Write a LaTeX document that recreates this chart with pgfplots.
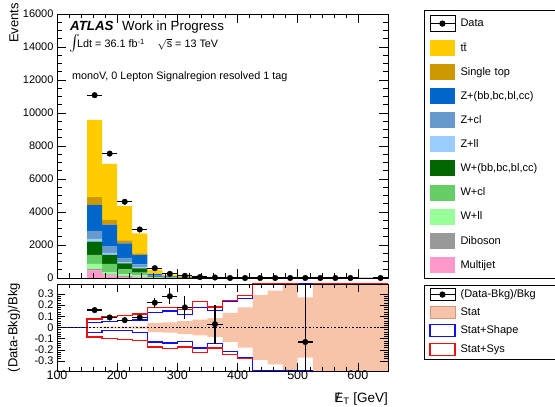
\documentclass[border=0pt]{standalone}
\usepackage{pgfplots}
\pgfplotsset{compat=1.18}
\usepackage{pgfplotstable}
\usepackage{fontspec}
\setmainfont{Liberation Sans}

\definecolor{cTT}{HTML}{FFCC00}
\definecolor{cST}{HTML}{CC9900}
\definecolor{cZhf}{HTML}{0066CC}
\definecolor{cZcl}{HTML}{6699CC}
\definecolor{cZll}{HTML}{99CCFF}
\definecolor{cWhf}{HTML}{006600}
\definecolor{cWcl}{HTML}{66CC66}
\definecolor{cWll}{HTML}{99FF99}
\definecolor{cVV}{HTML}{999999}
\definecolor{cMJ}{HTML}{FF99CC}
\definecolor{cStat}{HTML}{F7C4AA}
\definecolor{cStatLine}{HTML}{D9957A}
\definecolor{cShape}{HTML}{1010F0}
\definecolor{cSys}{HTML}{F01010}

% background yields per 25 GeV bin (bin centres)
\pgfplotstableread{
x     mj   vv    wll   wcl   whf   zll   zcl   zhf   st    tt
162.5 460  100   300   545   806   160   485   1576  465   4685
187.5 160  60    140   500   545   120   400   1315  285   3393
212.5 60   60    100   300   365   80    260   870   180   2080
237.5 40   40    80    160   260   100   140   565   100   1212
262.5 5    8     10    25    45    15    30    100   30    220
287.5 1    2     4     10    18    5     12    40    15    90
312.5 1    1     2     5     11    3     7     23    8     50
337.5 0    0.5   0.5   2     4     1     3     9     3     15
362.5 0    0.5   0.5   1.5   3.5   1     2     7     2     11
387.5 0    0.3   0.3   0.8   1.5   0.5   1     3     1     4
412.5 0    0.2   0.2   0.5   1     0.3   0.6   2     0.6   2
437.5 0    0.1   0.1   0.3   0.6   0.2   0.4   1.2   0.3   1
462.5 0    0.1   0.1   0.2   0.4   0.1   0.2   0.7   0.2   0.6
487.5 0    0.05  0.05  0.1   0.2   0.1   0.1   0.5   0.1   0.4
512.5 0    0.05  0.05  0.1   0.2   0.05  0.1   0.3   0.1   0.3
537.5 0    0     0     0.05  0.1   0.05  0.05  0.2   0.05  0.2
562.5 0    0     0     0.05  0.1   0     0.05  0.15  0.05  0.15
587.5 0    0     0     0     0.05  0     0.05  0.1   0.05  0.1
612.5 0    0     0     0     0.05  0     0     0.1   0     0.1
637.5 0    0     0     0     0.05  0     0     0.1   0     0.1
}\bkg

% observed events
\pgfplotstableread{
x     y      ex    ey
162.5 11080  12.5  105
187.5 7540   12.5  87
212.5 4620   12.5  68
237.5 2940   12.5  54
262.5 596    12.5  24
287.5 252    12.5  16
312.5 131    12.5  11
337.5 55     12.5  7
362.5 30     12.5  5
387.5 0      12.5  0
412.5 0      12.5  0
437.5 0      12.5  0
462.5 0      12.5  0
487.5 0      12.5  0
512.5 1      12.5  1
537.5 0      12.5  0
562.5 0      12.5  0
587.5 0      12.5  0
637.5 0      12.5  0
}\data

% (Data-Bkg)/Bkg
\pgfplotstableread{
x     r      ex    er
162.5 0.156  12.5  0.012
187.5 0.090  12.5  0.014
212.5 0.066  12.5  0.016
237.5 0.090  12.5  0.020
262.5 0.222  12.5  0.045
287.5 0.280  12.5  0.070
312.5 0.180  12.5  0.100
362.5 0.030  12.5  0.175
512.5 -0.130 12.5  1.000
}\ratio

\pgfplotsset{
  hepaxis/.style={
    scale only axis, width=331bp, anchor=south west,
    xmin=100, xmax=650,
    tick align=inside, xtick pos=both, ytick pos=both,
    xtick={100,200,...,600}, minor x tick num=4,
    major tick length=9bp, minor tick length=4.5bp,
    every tick/.style={black, line width=0.5pt},
    axis line style={black, line width=0.6pt},
    /pgf/number format/assume math mode=true,
    /pgf/number format/1000 sep={},
    scaled y ticks=false,
  },
  swatch/.style={legend image code/.code={\fill[##1] (0bp,-8bp) rectangle (25bp,8bp);}},
  smallswatch/.style={legend image code/.code={\draw[##1] (0bp,-6bp) rectangle (25bp,6bp);}},
}

\begin{document}
\begin{tikzpicture}
\useasboundingbox (0bp,0bp) rectangle (555bp,407bp);

% stacked backgrounds
\begin{axis}[hepaxis, at={(57bp,129bp)}, height=264bp,
  ymin=0, ymax=16000, ytick={0,2000,...,16000}, minor y tick num=3,
  xticklabels={},
  yticklabel style={font=\fontsize{11bp}{13bp}\selectfont},
  ybar stacked, bar width=25, axis on top]
\addplot[fill=cMJ,  draw=none] table[x=x,y=mj]{\bkg};
\addplot[fill=cVV,  draw=none] table[x=x,y=vv]{\bkg};
\addplot[fill=cWll, draw=none] table[x=x,y=wll]{\bkg};
\addplot[fill=cWcl, draw=none] table[x=x,y=wcl]{\bkg};
\addplot[fill=cWhf, draw=none] table[x=x,y=whf]{\bkg};
\addplot[fill=cZll, draw=none] table[x=x,y=zll]{\bkg};
\addplot[fill=cZcl, draw=none] table[x=x,y=zcl]{\bkg};
\addplot[fill=cZhf, draw=none] table[x=x,y=zhf]{\bkg};
\addplot[fill=cST,  draw=none] table[x=x,y=st]{\bkg};
\addplot[fill=cTT,  draw=none] table[x=x,y=tt]{\bkg};
\end{axis}

% data and legend
\begin{axis}[hepaxis, at={(57bp,129bp)}, height=264bp,
  ymin=0, ymax=16000, hide axis, clip=false,
  legend cell align=left,
  legend style={at={(1.1088,1.0152)}, anchor=north west,
    draw=black, line width=0.6pt, fill=white,
    inner xsep=5bp, inner ysep=5bp, row sep=8.1bp, column sep=5bp,
    font=\fontsize{11bp}{13bp}\selectfont,
    nodes={inner sep=0pt, text width=100bp, align=left}}]
\addplot[black, only marks, mark=*, mark size=2.8bp,
  legend image code/.code={\draw[black, line width=1.2bp] (0bp,0bp) -- (25bp,0bp);
    \fill[black] (12.5bp,0bp) circle (2.8bp); \path (0bp,-8bp) rectangle (25bp,8bp);},
  error bars/.cd, x dir=both, x explicit, y dir=both, y explicit,
  error bar style={line width=1.2bp, black}, error mark=none]
  table[x=x, y=y, x error=ex, y error=ey]{\data};
\addlegendentry{Data}
\addlegendimage{swatch, fill=cTT, draw=none}\addlegendentry{t\={t}}
\addlegendimage{swatch, fill=cST, draw=none}\addlegendentry{Single top}
\addlegendimage{swatch, fill=cZhf, draw=none}\addlegendentry{Z+(bb,bc,bl,cc)}
\addlegendimage{swatch, fill=cZcl, draw=none}\addlegendentry{Z+cl}
\addlegendimage{swatch, fill=cZll, draw=none}\addlegendentry{Z+ll}
\addlegendimage{swatch, fill=cWhf, draw=none}\addlegendentry{W+(bb,bc,bl,cc)}
\addlegendimage{swatch, fill=cWcl, draw=none}\addlegendentry{W+cl}
\addlegendimage{swatch, fill=cWll, draw=none}\addlegendentry{W+ll}
\addlegendimage{swatch, fill=cVV, draw=none}\addlegendentry{Diboson}
\addlegendimage{swatch, fill=cMJ, draw=none}\addlegendentry{Multijet}
\end{axis}

% ratio panel
\begin{axis}[hepaxis, at={(57bp,36bp)}, height=87bp,
  ymin=-0.39, ymax=0.39, ytick={-0.3,-0.2,-0.1,0,0.1,0.2,0.3}, minor y tick num=4,
  major tick length=8bp, minor tick length=4bp,
  yticklabel style={font=\fontsize{11bp}{13bp}\selectfont},
  xticklabel style={font=\fontsize{12.5bp}{14bp}\selectfont, yshift=4bp},
  axis on top,
  legend cell align=left,
  legend style={at={(1.1088,0.9885)}, anchor=north west,
    draw=black, line width=0.6pt, fill=white,
    inner xsep=5bp, inner ysep=3bp, row sep=5.3bp, column sep=5bp,
    font=\fontsize{11bp}{13bp}\selectfont,
    nodes={inner sep=0pt, text width=100bp, align=left}}]
\addlegendimage{legend image code/.code={\draw[black, line width=1.2bp] (0bp,0bp) -- (25bp,0bp);
    \fill[black] (12.5bp,0bp) circle (2.8bp); \path (0bp,-6bp) rectangle (25bp,6bp);}}
\addlegendentry{(Data-Bkg)/Bkg}
\addlegendimage{smallswatch, fill=cStat, draw=cStatLine, line width=0.6bp}\addlegendentry{Stat}
\addlegendimage{smallswatch, fill=white, draw=cShape, line width=1.3bp}\addlegendentry{Stat+Shape}
\addlegendimage{smallswatch, fill=white, draw=cSys, line width=1.3bp}\addlegendentry{Stat+Sys}

% statistical band
\addplot[forget plot, const plot mark left, fill=cStat, draw=none] coordinates {
  (150,0.006) (175,0.007) (200,0.008) (225,0.01) (250,0.042) (275,0.045)
  (300,0.058) (325,0.07) (350,0.085) (375,0.13) (400,0.18) (425,0.29)
  (450,0.33) (475,0.6) (500,0.27) (525,0.6) (650,0.6)} \closedcycle;
\addplot[forget plot, const plot mark left, fill=cStat, draw=none] coordinates {
  (150,-0.006) (175,-0.007) (200,-0.008) (225,-0.01) (250,-0.042) (275,-0.045)
  (300,-0.058) (325,-0.07) (350,-0.085) (375,-0.13) (400,-0.18) (425,-0.29)
  (450,-0.33) (475,-0.6) (500,-0.27) (525,-0.6) (650,-0.6)} \closedcycle;

% stat+shape envelope
\addplot[forget plot, const plot mark left, cShape, line width=1.3bp] coordinates {
  (100,0) (150,0.042) (175,0.054) (200,0.06) (225,0.066) (250,0.135) (275,0.147)
  (300,0.117) (325,0.18) (350,0.155) (375,0.23) (400,0.26) (425,0.39) (650,0.39)};
\addplot[forget plot, const plot mark left, cShape, line width=1.3bp] coordinates {
  (100,0) (150,-0.045) (175,-0.024) (200,-0.03) (225,-0.045) (250,-0.13) (275,-0.138)
  (300,-0.123) (325,-0.185) (350,-0.145) (375,-0.215) (400,-0.27) (425,-0.39) (525,-0.39)};

% stat+sys envelope
\addplot[forget plot, const plot mark left, cSys, line width=1.3bp] coordinates {
  (150,0) (150,0.075) (175,0.10) (200,0.11) (225,0.12) (250,0.177) (275,0.177)
  (300,0.162) (325,0.23) (350,0.185) (375,0.245) (400,0.285) (425,0.39) (650,0.39)};
\addplot[forget plot, const plot mark left, cSys, line width=1.3bp] coordinates {
  (150,0) (150,-0.084) (175,-0.10) (200,-0.11) (225,-0.115) (250,-0.175) (275,-0.186)
  (300,-0.175) (325,-0.225) (350,-0.185) (375,-0.24) (400,-0.28) (425,-0.28)};
\addplot[forget plot, cShape, line width=1.3bp] coordinates {(500,0.39) (525,0.39)};
\addplot[forget plot, cShape, line width=1.3bp] coordinates {(425,-0.39) (525,-0.39)};

% reference line
\addplot[forget plot, black, line width=1.3bp, dash pattern=on 1.8bp off 1.8bp]
  coordinates {(100,0) (650,0)};

% data / background
\addplot[forget plot, black, only marks, mark=*, mark size=2.8bp,
  error bars/.cd, x dir=both, x explicit, y dir=both, y explicit,
  error bar style={line width=1.2bp, black}, error mark=none]
  table[x=x, y=r, x error=ex, y error=er]{\ratio};
\end{axis}

% labels
\node[rotate=90, anchor=east, inner sep=0pt, font=\fontsize{13bp}{15bp}\selectfont] at (14bp,404bp) {Events};
\node[rotate=90, anchor=east, inner sep=0pt, font=\fontsize{13bp}{15bp}\selectfont] at (14bp,124bp) {(Data-Bkg)/Bkg};
\node[anchor=base east, inner sep=0pt, font=\fontsize{13.5bp}{15bp}\selectfont] at (388bp,5bp)
  {\makebox[0pt][l]{\hspace{0.12em}/}E\textsubscript{T} [GeV]};

\node[anchor=base west, inner sep=0pt, font=\fontsize{13.3bp}{15bp}\selectfont\bfseries\itshape] at (70bp,376bp) {ATLAS};
\node[anchor=base west, inner sep=0pt, font=\fontsize{13.3bp}{15bp}\selectfont] at (122bp,376bp) {Work in Progress};
\node[anchor=base west, inner sep=0pt] at (69bp,359.5bp) {\scalebox{1.6}{$\int$}};
\node[anchor=base west, inner sep=0pt, font=\fontsize{10.8bp}{13bp}\selectfont] at (77bp,359bp)
  {Ldt = 36.1 fb\textsuperscript{-1}\hspace{1.2em}$\sqrt{\mbox{s}}$ = 13 TeV};
\node[anchor=base west, inner sep=0pt, font=\fontsize{10.8bp}{13bp}\selectfont] at (72bp,327bp)
  {monoV, 0 Lepton Signalregion resolved 1 tag};
\end{tikzpicture}
\end{document}
